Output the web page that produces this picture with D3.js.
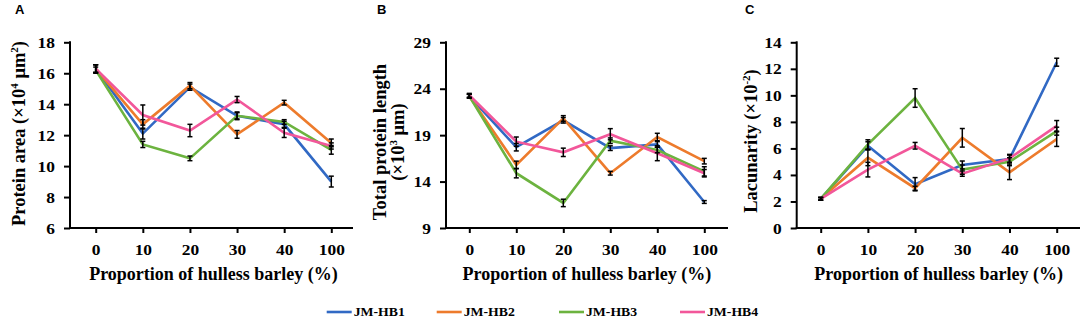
<!DOCTYPE html>
<html>
<head>
<meta charset="utf-8">
<script src="https://cdn.jsdelivr.net/npm/d3@7"></script>
<style>
body { margin: 0; background: #fff; }
svg { display: block; }
</style>
</head>
<body>
<div id="chart"></div>
<script>
// categories and series
var cats = ["0", "10", "20", "30", "40", "100"];
var seriesNames = ["JM-HB1", "JM-HB2", "JM-HB3", "JM-HB4"];
var colors = ["#3169c4", "#ed7b2c", "#6cb33f", "#f2579a"];

// A: protein area (x10^4 um^2)
var areaMean = [
    [16.3, 12.1, 15.1, 13.25, 12.7, 9.0],
    [16.3, 12.7, 15.2, 12.05, 14.1, 11.5],
    [16.2, 11.4, 10.5, 13.25, 12.85, 11.05],
    [16.3, 13.3, 12.3, 14.3, 12.15, 11.3]
];
var areaErr = [
    [0.25, 0.35, 0.2, 0.25, 0.2, 0.35],
    [0.25, 0.3, 0.2, 0.25, 0.15, 0.25],
    [0.2, 0.2, 0.15, 0.2, 0.15, 0.28],
    [0.25, 0.65, 0.4, 0.2, 0.3, 0.2]
];
var areaTicks = [6, 8, 10, 12, 14, 16, 18];

// B: total protein length (x10^3 um)
var lengthMean = [
    [23.2, 17.7, 20.6, 17.6, 18.0, 11.8],
    [23.2, 15.8, 20.8, 14.9, 18.8, 16.2],
    [23.2, 14.9, 11.7, 18.4, 17.4, 15.1],
    [23.3, 18.3, 17.15, 19.1, 17.05, 14.9]
];
var lengthErr = [
    [0.2, 0.4, 0.3, 0.25, 0.3, 0.15],
    [0.2, 0.4, 0.3, 0.2, 0.4, 0.3],
    [0.2, 0.5, 0.4, 0.3, 0.3, 0.5],
    [0.2, 0.5, 0.45, 0.6, 0.8, 0.4]
];
var lengthTicks = [9, 14, 19, 24, 29];

// C: lacunarity (x10^-2)
var lacMean = [
    [2.2, 6.2, 3.3, 4.75, 5.2, 12.5],
    [2.2, 5.3, 3.0, 6.8, 4.2, 6.7],
    [2.2, 6.3, 9.8, 4.4, 5.0, 7.3],
    [2.2, 4.4, 6.2, 4.1, 5.25, 7.7]
];
var lacErr = [
    [0.1, 0.3, 0.5, 0.3, 0.3, 0.3],
    [0.1, 0.6, 0.15, 0.7, 0.55, 0.55],
    [0.1, 0.35, 0.7, 0.35, 0.3, 0.3],
    [0.1, 0.55, 0.25, 0.2, 0.3, 0.4]
];
var lacTicks = [0, 2, 4, 6, 8, 10, 12, 14];

var serif = "'Liberation Serif', 'Times New Roman', serif";
var sans = "'Liberation Sans', Arial, sans-serif";
var plotTop = 42.3, plotBottom = 228;

var svg = d3.select("#chart").append("svg")
    .attr("width", 1084)
    .attr("height", 318);

// stretched bold serif text (the figure is wider than tall)
function label(parent, x, y, str, size, anchor, sx) {
    return parent.append("text")
        .attr("transform", "translate(" + x + "," + y + ") scale(" + sx + ",1)")
        .attr("font-family", serif)
        .attr("font-weight", "bold")
        .attr("font-size", size + "px")
        .attr("text-anchor", anchor)
        .attr("fill", "#000")
        .text(str);
}

// rotated y title; parts = [[text, isSup, dy], ...]
function yTitle(x, cy, parts) {
    var t = svg.append("text")
        .attr("transform", "translate(" + x + "," + cy + ") rotate(-90)")
        .attr("font-family", serif)
        .attr("font-weight", "bold")
        .attr("font-size", "18.5px")
        .attr("text-anchor", "middle");
    parts.forEach(function(p) {
        if (p[1]) {
            t.append("tspan").attr("dy", -7).attr("font-size", "11px").text(p[0]);
        } else {
            t.append("tspan").attr("dy", p[2] || 0).text(p[0]);
        }
    });
    return t;
}

function panel(cfg) {
    var x = d3.scalePoint().domain(cats).range(cfg.xr);
    var y = d3.scaleLinear().domain(cfg.yd).range([plotBottom, plotTop]);
    var g = svg.append("g");

    var yAxis = d3.axisLeft(y).tickValues(cfg.ticks).tickSize(6).tickSizeOuter(0);
    var ya = g.append("g").attr("transform", "translate(" + cfg.ax + ",0)").call(yAxis);
    ya.select(".domain").remove();
    ya.selectAll("line").attr("stroke", "#000").attr("stroke-width", 2);
    ya.selectAll("text").remove();
    ya.selectAll(".tick").each(function(d) {
        label(d3.select(this), -15, 5, d, 14.5, "end", 1.2);
    });

    var xAxis = d3.axisBottom(x).tickSize(5).tickSizeOuter(0);
    var xa = g.append("g").attr("transform", "translate(0," + plotBottom + ")").call(xAxis);
    xa.select(".domain").remove();
    xa.selectAll("line").attr("stroke", "#000").attr("stroke-width", 2);
    xa.selectAll("text").remove();
    xa.selectAll(".tick").each(function(d) {
        label(d3.select(this), 0, 27, d, 14.5, "middle", 1.2);
    });

    g.append("line").attr("x1", cfg.ax).attr("x2", cfg.ax)
        .attr("y1", plotTop - 1).attr("y2", plotBottom + 1)
        .attr("stroke", "#000").attr("stroke-width", 2);
    g.append("line").attr("x1", cfg.ax - 1).attr("x2", cfg.xend)
        .attr("y1", plotBottom).attr("y2", plotBottom)
        .attr("stroke", "#000").attr("stroke-width", 2);

    var line = d3.line()
        .x(function(d, i) { return x(cats[i]); })
        .y(function(d) { return y(d); });

    cfg.means.forEach(function(s, k) {
        g.append("path")
            .datum(s)
            .attr("d", line)
            .attr("fill", "none")
            .attr("stroke", colors[k])
            .attr("stroke-width", 2.6)
            .attr("stroke-linejoin", "miter");
    });

    cfg.means.forEach(function(s, k) {
        s.forEach(function(v, i) {
            var e = cfg.errs[k][i];
            var cx = x(cats[i]);
            var eb = g.append("g").attr("stroke", "#000").attr("stroke-width", 1.5);
            eb.append("line").attr("x1", cx).attr("x2", cx).attr("y1", y(v - e)).attr("y2", y(v + e));
            eb.append("line").attr("x1", cx - 2.5).attr("x2", cx + 2.5).attr("y1", y(v - e)).attr("y2", y(v - e));
            eb.append("line").attr("x1", cx - 2.5).attr("x2", cx + 2.5).attr("y1", y(v + e)).attr("y2", y(v + e));
        });
    });

    label(svg, (cfg.xr[0] + cfg.xr[1]) / 2, 280, "Proportion of hulless barley (%)", 18, "middle", 1.0);

    svg.append("text")
        .attr("x", cfg.lx).attr("y", 14)
        .attr("font-family", sans)
        .attr("font-weight", "bold")
        .attr("font-size", "13px")
        .text(cfg.letter);
}

panel({ letter: "A", lx: 15, ax: 70, xend: 353, xr: [95.7, 331.3], yd: [6, 18],
    ticks: areaTicks, means: areaMean, errs: areaErr });
panel({ letter: "B", lx: 377, ax: 446, xend: 728, xr: [469.3, 704.3], yd: [9, 29],
    ticks: lengthTicks, means: lengthMean, errs: lengthErr });
panel({ letter: "C", lx: 745, ax: 796.7, xend: 1080, xr: [820.7, 1056.7], yd: [0, 14],
    ticks: lacTicks, means: lacMean, errs: lacErr });

yTitle(25, 133.5, [["Protein area (\u00d710"], ["4", true], [" \u03bcm", false, 7], ["2", true], [")", false, 7]]);
yTitle(386, 142, [["Total protein length"]]);
yTitle(404, 142, [["(\u00d710"], ["3", true], [" \u03bcm)", false, 7]]);
yTitle(757, 141, [["Lacunarity (\u00d710"], ["-2", true], [")", false, 7]]);

// legend
var legendX = [326.7, 436.7, 559, 680];
var leg = svg.append("g");
seriesNames.forEach(function(n, k) {
    leg.append("line")
        .attr("x1", legendX[k]).attr("x2", legendX[k] + 25)
        .attr("y1", 312).attr("y2", 312)
        .attr("stroke", colors[k]).attr("stroke-width", 2.6);
    label(leg, legendX[k] + 27, 316, n, 12.5, "start", 1.1);
});
</script>
</body>
</html>
